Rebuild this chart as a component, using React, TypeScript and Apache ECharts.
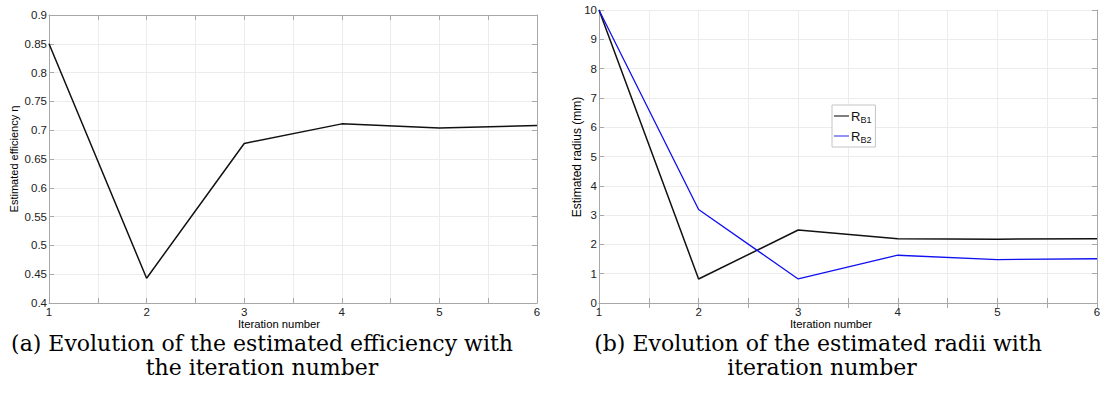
import React, { useEffect, useRef } from "react";
import * as echarts from "echarts";

const iterations = [1, 2, 3, 4, 5, 6];
const efficiency = [0.85, 0.443, 0.677, 0.711, 0.704, 0.708];
const radiusB1 = [10, 0.82, 2.49, 2.19, 2.18, 2.19];
const radiusB2 = [10, 3.19, 0.82, 1.63, 1.48, 1.51];

const leftYTicks = { min: 0.4, max: 0.9, interval: 0.05 };
const rightYTicks = { min: 0, max: 10, interval: 1 };

const captionA = ["(a) Evolution of the estimated efficiency with", "the iteration number"];
const captionB = ["(b) Evolution of the estimated radii with", "iteration number"];
const xName = "Iteration number";
const yNameA = "Estimated efficiency η";
const yNameB = "Estimated radius (mm)";
const legendNames = ["RB1", "RB2"];

const AXIS_COLOR = "#a8a8a8";
const GRID_COLOR = "#ececec";
const SANS = "Liberation Sans, Arial, sans-serif";
const SERIF = "DejaVu Serif, serif";

export default function App() {
  const ref = useRef<HTMLDivElement>(null);
  useEffect(() => {
    if (!ref.current) return;
    const chart = echarts.init(ref.current, undefined, { renderer: "svg" });

    const grids = [
      { left: 49, top: 15, width: 488, height: 288 },
      { left: 599, top: 10, width: 498, height: 293 },
    ];

    const xMain = (gi: number) => ({
      type: "value",
      gridIndex: gi,
      min: 1,
      max: 6,
      interval: 0.5,
      axisLine: { show: true, lineStyle: { color: AXIS_COLOR, width: 1 } },
      axisTick: { show: true, inside: true, length: 5, lineStyle: { color: AXIS_COLOR } },
      splitLine: { show: true, lineStyle: { color: GRID_COLOR, width: 1 } },
      axisLabel: {
        show: true,
        margin: 3,
        color: "#222",
        fontFamily: SANS,
        fontSize: 11.5,
        formatter: (v: number) => (Math.abs(v - Math.round(v)) < 1e-6 ? String(Math.round(v)) : ""),
      },
    });
    const xTop = (gi: number) => ({
      type: "value",
      gridIndex: gi,
      position: "top",
      min: 1,
      max: 6,
      interval: 0.5,
      axisLine: { show: true, lineStyle: { color: AXIS_COLOR, width: 1 } },
      axisTick: { show: true, inside: true, length: 5, lineStyle: { color: AXIS_COLOR } },
      splitLine: { show: false },
      axisLabel: { show: false },
    });
    const yMain = (gi: number, t: { min: number; max: number; interval: number }, dec: number) => ({
      type: "value",
      gridIndex: gi,
      min: t.min,
      max: t.max,
      interval: t.interval,
      axisLine: { show: true, lineStyle: { color: AXIS_COLOR, width: 1 } },
      axisTick: { show: true, inside: true, length: 5, lineStyle: { color: AXIS_COLOR } },
      splitLine: { show: true, lineStyle: { color: GRID_COLOR, width: 1 } },
      axisLabel: {
        show: true,
        margin: 2,
        color: "#222",
        fontFamily: SANS,
        fontSize: 11.5,
        formatter: (v: number) => String(Number(v.toFixed(dec))),
      },
    });
    const yRight = (gi: number, t: { min: number; max: number; interval: number }) => ({
      type: "value",
      gridIndex: gi,
      position: "right",
      min: t.min,
      max: t.max,
      interval: t.interval,
      axisLine: { show: true, lineStyle: { color: AXIS_COLOR, width: 1 } },
      axisTick: { show: true, inside: true, length: 5, lineStyle: { color: AXIS_COLOR } },
      splitLine: { show: false },
      axisLabel: { show: false },
    });

    const pairs = (ys: number[]) => iterations.map((x, i) => [x, ys[i]]);

    const textEl = (x: number, y: number, text: string, font: string, size: number, rot = 0) => ({
      type: "text",
      x,
      y,
      rotation: rot,
      style: {
        text,
        fill: "#000",
        font: `${size}px ${font}`,
        align: "center",
        verticalAlign: "middle",
      },
    });

    chart.setOption({
      animation: false,
      backgroundColor: "#fff",
      grid: grids,
      xAxis: [xMain(0), xTop(0), xMain(1), xTop(1)],
      yAxis: [yMain(0, leftYTicks, 2), yRight(0, leftYTicks), yMain(1, rightYTicks, 0), yRight(1, rightYTicks)],
      legend: {
        show: true,
        orient: "vertical",
        left: 832,
        top: 105,
        data: legendNames.map((n) => ({ name: n, icon: "rect" })),
        itemWidth: 15,
        itemHeight: 1.5,
        itemGap: 4,
        padding: [3, 4, 3, 2],
        borderColor: "#c4c4c4",
        borderWidth: 1,
        backgroundColor: "#fff",
        formatter: (name: string) => `{r|R}{s|${name.slice(1)}}`,
        textStyle: {
          color: "#111",
          fontFamily: SANS,
          padding: [0, 0, 0, -3],
          rich: {
            r: { fontSize: 13, fontFamily: SANS, color: "#111", lineHeight: 16 },
            s: { fontSize: 9, fontFamily: SANS, color: "#111", lineHeight: 16, verticalAlign: "bottom", padding: [7, 0, 0, 0] },
          },
        },
      },
      series: [
        {
          name: "efficiency",
          type: "line",
          xAxisIndex: 0,
          yAxisIndex: 0,
          data: pairs(efficiency),
          symbol: "none",
          lineStyle: { color: "#111", width: 1.5 },
          itemStyle: { color: "#111" },
        },
        {
          name: legendNames[0],
          type: "line",
          xAxisIndex: 2,
          yAxisIndex: 2,
          data: pairs(radiusB1),
          symbol: "none",
          lineStyle: { color: "#111", width: 1.5 },
          itemStyle: { color: "#555" },
        },
        {
          name: legendNames[1],
          type: "line",
          xAxisIndex: 2,
          yAxisIndex: 2,
          data: pairs(radiusB2),
          symbol: "none",
          lineStyle: { color: "#1010f0", width: 1.3 },
          itemStyle: { color: "#6f6ff5" },
        },
      ],
      graphic: [
        textEl(279, 324, xName, SANS, 11.3),
        textEl(831, 324, xName, SANS, 11.3),
        textEl(14, 159, yNameA, SANS, 11, Math.PI / 2),
        textEl(577, 157, yNameB, SANS, 12, Math.PI / 2),
        textEl(262, 343, captionA[0], SERIF, 22),
        textEl(262, 367, captionA[1], SERIF, 22),
        textEl(818, 343, captionB[0], SERIF, 22),
        textEl(822, 367, captionB[1], SERIF, 22),
      ],
    });
    return () => chart.dispose();
  }, []);
  return <div ref={ref} style={{ position: "fixed", left: 0, top: 0, width: 1106, height: 403 }} />;
}
